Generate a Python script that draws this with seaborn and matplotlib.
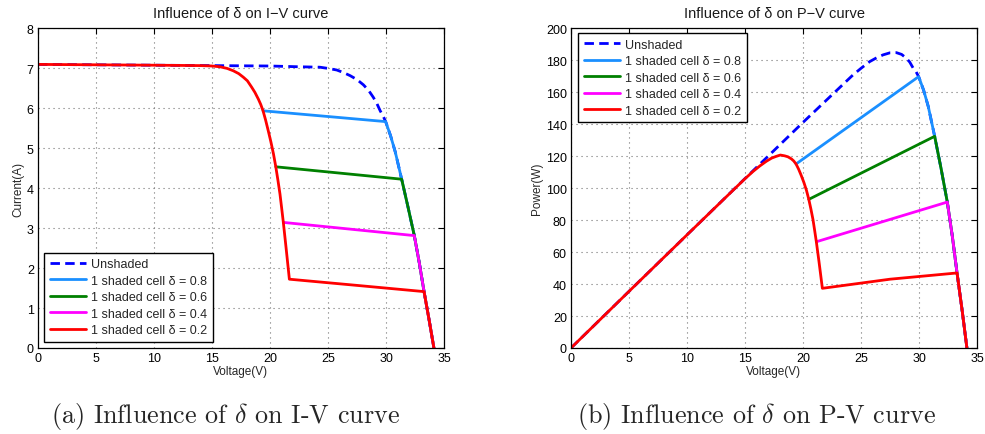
import matplotlib
matplotlib.use("Agg")
import matplotlib.pyplot as plt
import seaborn as sns
import pandas as pd

# ---------------- data ----------------
series_names = ["Unshaded",
                "1 shaded cell \u03b4 = 0.8",
                "1 shaded cell \u03b4 = 0.6",
                "1 shaded cell \u03b4 = 0.4",
                "1 shaded cell \u03b4 = 0.2"]

# Unshaded
v_unshaded = [0, 5, 10, 15, 20, 22.6, 23.5, 24.3, 25.0, 25.75, 26.3, 26.9, 27.5, 28.05, 28.5,
              28.9, 29.2, 29.5, 29.75, 29.97, 30.4, 30.8, 31.35, 31.9, 32.44, 32.87, 33.28,
              33.73, 34.13]
i_unshaded = [7.09, 7.08, 7.07, 7.06, 7.05, 7.03, 7.025, 7.02, 6.99, 6.95, 6.89, 6.81, 6.71, 6.58, 6.44,
              6.27, 6.12, 5.93, 5.80, 5.66, 5.30, 4.90, 4.22, 3.52, 2.81, 2.13, 1.41,
              0.68, 0.0]
p_unshaded = [0, 35.4, 70.7, 105.9, 141.0, 158.9, 165.1, 170.6, 174.8, 179.0, 181.2, 183.2, 184.5, 184.6, 183.5,
              181.2, 178.7, 174.9, 172.6, 169.6, 161.1, 150.9, 132.3, 112.3, 91.2, 70.0, 46.9,
              22.9, 0.0]

# delta = 0.8
v_d08 = [19.4, 29.97, 30.4, 30.8, 31.35, 31.9, 32.44, 32.87, 33.28, 33.73, 34.13]
i_d08 = [5.93, 5.66, 5.30, 4.90, 4.22, 3.52, 2.81, 2.13, 1.41, 0.68, 0.0]
p_d08 = [115.0, 169.6, 161.1, 150.9, 132.3, 112.3, 91.2, 70.0, 46.9, 22.9, 0.0]

# delta = 0.6
v_d06 = [20.5, 31.35, 31.9, 32.44, 32.87, 33.28, 33.73, 34.13]
i_d06 = [4.53, 4.22, 3.52, 2.81, 2.13, 1.41, 0.68, 0.0]
p_d06 = [92.9, 132.3, 112.3, 91.2, 70.0, 46.9, 22.9, 0.0]

# delta = 0.4
v_d04 = [21.15, 32.44, 32.87, 33.28, 33.73, 34.13]
i_d04 = [3.14, 2.81, 2.13, 1.41, 0.68, 0.0]
p_d04 = [66.4, 91.2, 70.0, 46.9, 22.9, 0.0]

# delta = 0.2
v_d02 = [0, 5, 10, 14, 15.0, 15.7, 16.3, 16.84, 17.3, 17.7, 18.05, 18.42, 18.7, 19.0, 19.2, 19.4,
         19.62, 19.85, 20.08, 20.3, 20.5, 20.68, 20.86, 21.0, 21.15, 21.38, 21.67, 27.5,
         33.28, 33.73, 34.13]
i_d02 = [7.09, 7.08, 7.07, 7.06, 7.05, 7.03, 6.99, 6.93, 6.86, 6.77, 6.68, 6.52, 6.39, 6.22, 6.09, 5.93,
         5.70, 5.43, 5.15, 4.85, 4.53, 4.20, 3.85, 3.51, 3.14, 2.52, 1.72, 1.565,
         1.41, 0.68, 0.0]
p_d02 = [0, 35.4, 70.7, 98.8, 105.8, 110.4, 113.9, 116.7, 118.7, 119.8, 120.6, 120.1, 119.5, 118.2, 116.9, 115.0,
         111.8, 107.8, 103.4, 98.5, 92.9, 86.9, 80.3, 73.7, 66.4, 53.9, 37.3, 43.0,
         46.9, 22.9, 0.0]

x_ticks = [0, 5, 10, 15, 20, 25, 30, 35]
iv_y_ticks = [0, 1, 2, 3, 4, 5, 6, 7, 8]
pv_y_ticks = [0, 20, 40, 60, 80, 100, 120, 140, 160, 180, 200]

# ---------------- tidy frame ----------------
rows = []
for name, v, i, p in zip(series_names,
                         [v_unshaded, v_d08, v_d06, v_d04, v_d02],
                         [i_unshaded, i_d08, i_d06, i_d04, i_d02],
                         [p_unshaded, p_d08, p_d06, p_d04, p_d02]):
    for vv, ii, pp in zip(v, i, p):
        rows.append({"Series": name, "Voltage": vv, "Current": ii, "Power": pp})
df = pd.DataFrame(rows)

palette = {series_names[0]: (0.0, 0.0, 1.0),
           series_names[1]: (0.1, 0.56, 1.0),
           series_names[2]: (0.0, 0.5, 0.0),
           series_names[3]: (1.0, 0.0, 1.0),
           series_names[4]: (1.0, 0.0, 0.0)}
dashes = {series_names[0]: (3.4, 1.9)}
for n in series_names[1:]:
    dashes[n] = ""

sns.set_theme(style="white")
plt.rcParams["font.family"] = ["Liberation Sans", "DejaVu Sans"]
plt.rcParams["mathtext.fontset"] = "cm"

fig = plt.figure(figsize=(9.85, 4.35), dpi=100)
ax1 = fig.add_axes([38 / 985, 86 / 435, 406 / 985, 320 / 435])
ax2 = fig.add_axes([571 / 985, 86 / 435, 406 / 985, 320 / 435])


def style_axes(ax, yticks, ylim, ylabel, title):
    ax.set_xlim(0, 35)
    ax.set_ylim(*ylim)
    ax.set_xticks(x_ticks)
    ax.set_yticks(yticks)
    ax.grid(True, color=(0.45, 0.45, 0.45), linestyle=(0, (1, 3.5)), linewidth=0.8)
    ax.set_axisbelow(True)
    for s in ax.spines.values():
        s.set_color("black")
        s.set_linewidth(0.9)
        s.set_visible(True)
    ax.tick_params(direction="in", top=True, right=True, length=4, width=0.8,
                   labelsize=9, colors="black", pad=3)
    ax.set_xlabel("Voltage(V)", fontsize=8.5, labelpad=0.5)
    ax.set_ylabel(ylabel, fontsize=8.5, labelpad=2)
    ax.set_title(title, fontsize=10.5, pad=8, color=(0.1, 0.1, 0.1))


for ax, ycol in [(ax1, "Current"), (ax2, "Power")]:
    sns.lineplot(data=df, x="Voltage", y=ycol, hue="Series", style="Series",
                 hue_order=series_names, style_order=series_names,
                 palette=palette, dashes=dashes, sort=False, estimator=None,
                 linewidth=2.0, ax=ax)

style_axes(ax1, iv_y_ticks, (0, 8), "Current(A)", "Influence of \u03b4 on I\u2212V curve")
style_axes(ax2, pv_y_ticks, (0, 200), "Power(W)", "Influence of \u03b4 on P\u2212V curve")

for ax, loc, anchor in [(ax1, "lower left", (0.015, 0.019)), (ax2, "upper left", (0.017, 0.984))]:
    handles, labels = ax.get_legend_handles_labels()
    leg = ax.legend(handles, labels, loc=loc, bbox_to_anchor=anchor, fontsize=9,
                    frameon=True, fancybox=False, edgecolor="black", framealpha=1,
                    handlelength=2.9, handletextpad=0.4, borderpad=0.45,
                    labelspacing=0.36, borderaxespad=0.0)
    leg.get_frame().set_linewidth(1.0)
    for line in leg.get_lines():
        line.set_linewidth(2.0)

fig.text(226 / 985, 1 - 417 / 435, "(a) Influence of $\\delta$ on I-V curve",
         family="cmr10", fontsize=18.8, ha="center", va="center")
fig.text(756 / 985, 1 - 417 / 435, "(b) Influence of $\\delta$ on P-V curve",
         family="cmr10", fontsize=18.8, ha="center", va="center")

fig.savefig("out.png", dpi=100)
